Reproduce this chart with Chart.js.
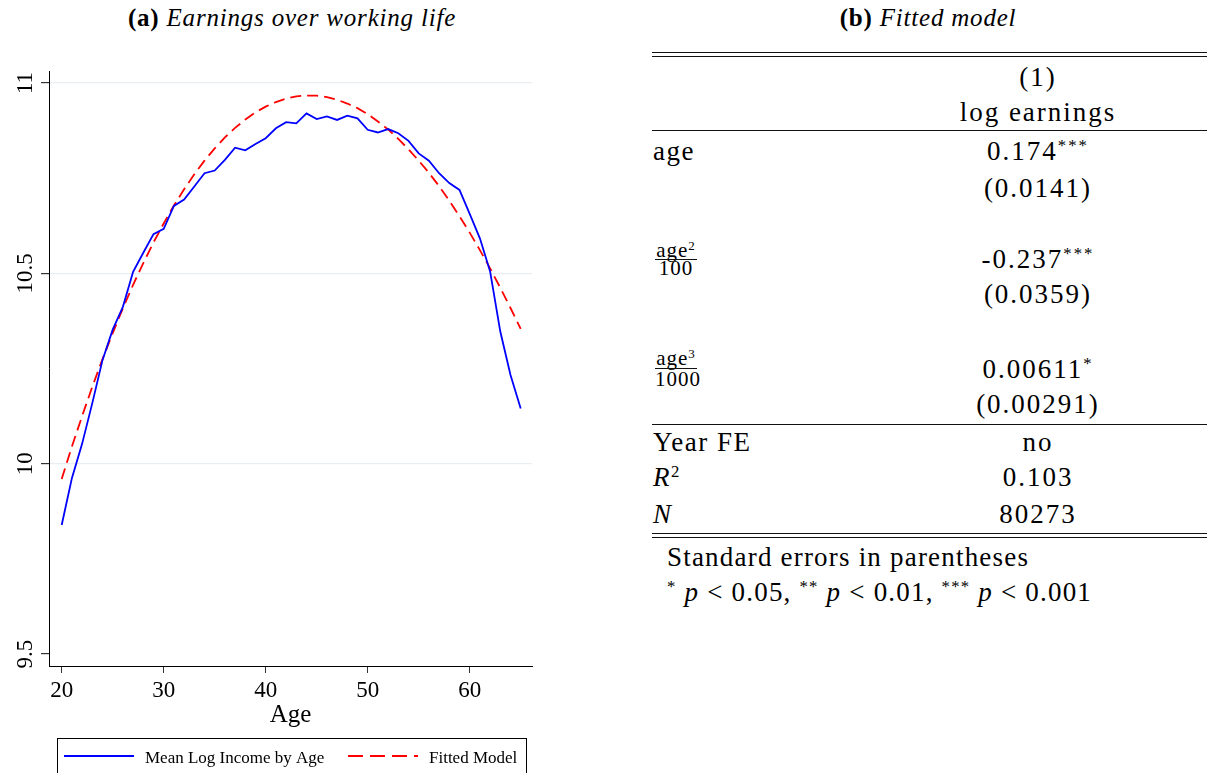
<!DOCTYPE html>
<html>
<head>
<meta charset="utf-8">
<script src="https://cdn.jsdelivr.net/npm/chart.js@4/dist/chart.umd.min.js"></script>
<style>
  html, body { margin: 0; padding: 0; background: #fff; }
  body { width: 1207px; height: 773px; position: relative; overflow: hidden;
         font-family: 'Liberation Serif', 'DejaVu Serif', serif; color: #000; }
  #panelA { position: absolute; left: 0; top: 0; }
  .abs { position: absolute; white-space: nowrap; font-size: 27px; line-height: 27px; }
  .ttl { position: absolute; white-space: nowrap; font-size: 25px; line-height: 25px;
         width: 500px; text-align: center; letter-spacing: 0.8px; top: 5px; }
  .lab { left: 653px; letter-spacing: 1.5px; }
  .val { left: 938px; width: 200px; text-align: center; letter-spacing: 2px; }
  .frac { position: absolute; left: 655px; width: 42px; text-align: center;
          font-size: 21px; line-height: 21px; white-space: nowrap; letter-spacing: 1px; }
  .rule { position: absolute; left: 652px; right: 0; height: 1px; background: #111; }
  sup { font-size: 0.62em; line-height: 0; vertical-align: 0.55em; }
  .note { left: 667px; letter-spacing: 1.2px; }
</style>
</head>
<body>

<div class="ttl" style="left:42px"><b>(a)</b> <i>Earnings over working life</i></div>
<canvas id="panelA" width="545" height="773"></canvas>

<!-- regression table -->
<div class="ttl" style="left:678px"><b>(b)</b> <i>Fitted model</i></div>
<div class="rule" style="top:52px"></div>
<div class="rule" style="top:56px"></div>
<div class="abs val" style="top:64px">(1)</div>
<div class="abs val" style="top:99px">log earnings</div>
<div class="rule" style="top:130px"></div>
<div class="abs lab" style="top:138px">age</div>
<div class="abs val" style="top:138px">0.174<sup>***</sup></div>
<div class="abs val" style="top:175px">(0.0141)</div>
<div class="frac" style="top:240px">age<sup>2</sup></div>
<div class="rule" style="top:259px; left:655px; right:auto; width:42px"></div>
<div class="frac" style="top:258px">100</div>
<div class="abs val" style="top:246px">-0.237<sup>***</sup></div>
<div class="abs val" style="top:281px">(0.0359)</div>
<div class="frac" style="top:348px">age<sup>3</sup></div>
<div class="rule" style="top:368px; left:655px; right:auto; width:42px"></div>
<div class="frac" style="top:369px">1000</div>
<div class="abs val" style="top:356px">0.00611<sup>*</sup></div>
<div class="abs val" style="top:391px">(0.00291)</div>
<div class="rule" style="top:424px"></div>
<div class="abs lab" style="top:429px">Year FE</div>
<div class="abs val" style="top:429px">no</div>
<div class="abs lab" style="top:464px"><i>R</i><sup>2</sup></div>
<div class="abs val" style="top:464px">0.103</div>
<div class="abs lab" style="top:501px"><i>N</i></div>
<div class="abs val" style="top:501px">80273</div>
<div class="rule" style="top:533px"></div>
<div class="rule" style="top:537px"></div>
<div class="abs note" style="top:544px">Standard errors in parentheses</div>
<div class="abs note" style="top:579px"><sup>*</sup> <i>p</i> &lt; 0.05, <sup>**</sup> <i>p</i> &lt; 0.01, <sup>***</sup> <i>p</i> &lt; 0.001</div>

<script>
// ages 20-65 and the two series
const ages = [20, 21, 22, 23, 24, 25, 26, 27, 28, 29, 30, 31, 32, 33, 34, 35,
  36, 37, 38, 39, 40, 41, 42, 43, 44, 45, 46, 47, 48, 49, 50, 51, 52, 53, 54,
  55, 56, 57, 58, 59, 60, 61, 62, 63, 64, 65];

const meanLogIncome = [9.839, 9.962, 10.052, 10.159, 10.272, 10.352, 10.412,
  10.504, 10.554, 10.603, 10.617, 10.677, 10.694, 10.728, 10.763, 10.770,
  10.798, 10.830, 10.823, 10.840, 10.855, 10.881, 10.897, 10.894, 10.920,
  10.905, 10.912, 10.903, 10.914, 10.907, 10.877, 10.870, 10.879, 10.868,
  10.848, 10.815, 10.796, 10.763, 10.737, 10.719, 10.656, 10.592, 10.505,
  10.347, 10.233, 10.145];

const fittedModel = [9.960, 10.045, 10.125, 10.202, 10.275, 10.343, 10.408,
  10.470, 10.527, 10.581, 10.631, 10.678, 10.721, 10.760, 10.796, 10.828,
  10.857, 10.882, 10.904, 10.923, 10.938, 10.950, 10.959, 10.965, 10.967,
  10.967, 10.963, 10.956, 10.946, 10.934, 10.918, 10.899, 10.878, 10.853,
  10.826, 10.796, 10.764, 10.729, 10.691, 10.650, 10.607, 10.561, 10.513,
  10.462, 10.409, 10.354];

const xTicks = [20, 30, 40, 50, 60];
const yTicks = [9.5, 10, 10.5, 11];

const FONT = "'Liberation Serif', 'DejaVu Serif', serif";

// rotated y labels, axis title and boxed legend
const panelExtras = {
  id: 'panelExtras',
  afterDraw(chart) {
    const ctx = chart.ctx;
    const y = chart.scales.y;
    const area = chart.chartArea;
    ctx.save();
    ctx.fillStyle = '#000';

    ctx.font = '23px ' + FONT;
    ctx.textAlign = 'center';
    ctx.textBaseline = 'alphabetic';
    yTicks.forEach(v => {
      ctx.save();
      ctx.translate(32, y.getPixelForValue(v));
      ctx.rotate(-Math.PI / 2);
      ctx.fillText(String(v), 0, 0);
      ctx.restore();
    });

    ctx.font = '25px ' + FONT;
    ctx.fillText('Age', (area.left + area.right) / 2, 722);

    // legend
    ctx.strokeStyle = '#000';
    ctx.lineWidth = 1;
    ctx.strokeRect(57.5, 738.5, 469, 60);
    const ds = chart.data.datasets;
    const items = [
      { x0: 64, x1: 134, tx: 145 },
      { x0: 348, x1: 418, tx: 429 }
    ];
    ctx.font = '17px ' + FONT;
    ctx.textAlign = 'left';
    items.forEach((it, i) => {
      ctx.beginPath();
      ctx.strokeStyle = ds[i].borderColor;
      ctx.lineWidth = 2;
      ctx.setLineDash(i === 1 ? [15, 7] : []);
      ctx.moveTo(it.x0, 756);
      ctx.lineTo(it.x1, 756);
      ctx.stroke();
      ctx.setLineDash([]);
      ctx.fillText(ds[i].label, it.tx, 763);
    });
    ctx.restore();
  }
};

new Chart(document.getElementById('panelA'), {
  type: 'line',
  data: {
    datasets: [
      {
        label: 'Mean Log Income by Age',
        data: ages.map((a, i) => ({ x: a, y: meanLogIncome[i] })),
        borderColor: '#0000ff',
        borderWidth: 1.8,
        pointRadius: 0,
        tension: 0
      },
      {
        label: 'Fitted Model',
        data: ages.map((a, i) => ({ x: a, y: fittedModel[i] })),
        borderColor: '#ff0000',
        borderWidth: 1.8,
        borderDash: [11, 6],
        pointRadius: 0,
        tension: 0
      }
    ]
  },
  options: {
    responsive: false,
    animation: false,
    layout: { padding: { left: 0, top: 71, right: 13, bottom: 0 } },
    plugins: { legend: { display: false }, tooltip: { enabled: false } },
    scales: {
      x: {
        type: 'linear',
        min: 18.755,
        max: 66.108,
        afterBuildTicks: s => { s.ticks = xTicks.map(v => ({ value: v })); },
        afterFit: s => { s.height = 107; },
        ticks: {
          font: { family: FONT, size: 23 },
          color: '#000',
          padding: 4,
          maxRotation: 0,
          autoSkip: false
        },
        grid: { drawOnChartArea: false, tickLength: 7, tickColor: '#333' },
        border: { color: '#000', width: 1 }
      },
      y: {
        min: 9.4685,
        max: 11.0315,
        afterBuildTicks: s => { s.ticks = yTicks.map(v => ({ value: v })); },
        afterFit: s => { s.width = 49; },
        ticks: { display: false },
        grid: {
          color: c => (c.tick && c.tick.value === 9.5) ? 'rgba(0,0,0,0)' : '#e8eef2',
          lineWidth: 1.2,
          tickLength: 8,
          tickColor: '#333'
        },
        border: { color: '#000', width: 1 }
      }
    }
  },
  plugins: [panelExtras]
});
</script>
</body>
</html>
